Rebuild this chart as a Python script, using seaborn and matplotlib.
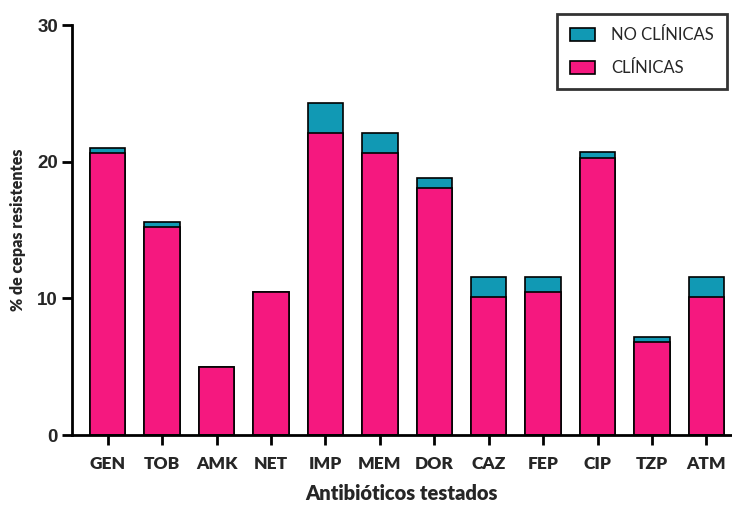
import matplotlib
matplotlib.use("Agg")
import matplotlib.pyplot as plt
from matplotlib.patches import Patch
import seaborn as sns
import pandas as pd

# Antibiotics tested and % of resistant strains
antibioticos = ["GEN", "TOB", "AMK", "NET", "IMP", "MEM", "DOR", "CAZ", "FEP", "CIP", "TZP", "ATM"]
clinicas = [20.6, 15.2, 5.0, 10.5, 22.1, 20.6, 18.1, 10.1, 10.5, 20.3, 6.8, 10.1]
no_clinicas = [0.4, 0.4, 0.0, 0.0, 2.2, 1.5, 0.7, 1.45, 1.05, 0.4, 0.36, 1.45]

y_ticks = [0, 10, 20, 30]

df = pd.DataFrame({
    "antibiotico": antibioticos,
    "clinicas": clinicas,
    "total": [c + n for c, n in zip(clinicas, no_clinicas)],
})

PINK = "#F5187F"
TEAL = "#1199B4"

sns.set_style("ticks")
plt.rcParams["font.family"] = ["Lato", "DejaVu Sans"]

fig = plt.figure(figsize=(7.32, 5.07), dpi=100)
ax = fig.add_axes([72 / 732, 72 / 507, 660 / 732, 410 / 507])

# stacked bars: total first (teal), clinical portion on top of it (pink)
sns.barplot(data=df, x="antibiotico", y="total", color=TEAL, width=0.65,
            edgecolor="black", linewidth=1.2, saturation=1, ax=ax)
sns.barplot(data=df, x="antibiotico", y="clinicas", color=PINK, width=0.65,
            edgecolor="black", linewidth=1.2, saturation=1, ax=ax)

ax.set_xlim(-0.655, 11.47)
ax.set_ylim(0, 30)
ax.set_yticks(y_ticks)
ax.set_yticklabels([str(t) for t in y_ticks], family="Liberation Sans",
                   fontweight="bold", fontsize=13.5)
ax.set_xticks(range(len(antibioticos)))
ax.set_xticklabels(antibioticos, fontweight="heavy", fontsize=12.5)

for side in ["top", "right"]:
    ax.spines[side].set_visible(False)
for side in ["left", "bottom"]:
    ax.spines[side].set_linewidth(2)
    ax.spines[side].set_color("black")
ax.tick_params(axis="both", length=7, width=2, color="black", direction="out")
ax.tick_params(axis="x", pad=8)
ax.tick_params(axis="y", pad=3)

ax.set_xlabel("Antibióticos testados", fontweight="heavy", fontsize=14.5, labelpad=9)
ax.set_ylabel("% de cepas resistentes", fontweight="heavy", fontsize=11.5, labelpad=8)

handles = [
    Patch(facecolor=TEAL, edgecolor="black", linewidth=1.2, label="NO CLÍNICAS"),
    Patch(facecolor=PINK, edgecolor="black", linewidth=1.2, label="CLÍNICAS"),
]
leg = fig.legend(handles=handles, loc="upper left",
                 bbox_to_anchor=(557 / 732, 1 - 14 / 507),
                 frameon=True, fancybox=False, fontsize=12,
                 handlelength=1.5, handleheight=0.85, handletextpad=0.95,
                 labelspacing=1.0, borderpad=0.8, borderaxespad=0)
leg.get_frame().set_edgecolor("black")
leg.get_frame().set_linewidth(2)

fig.savefig("out.png", dpi=100)
